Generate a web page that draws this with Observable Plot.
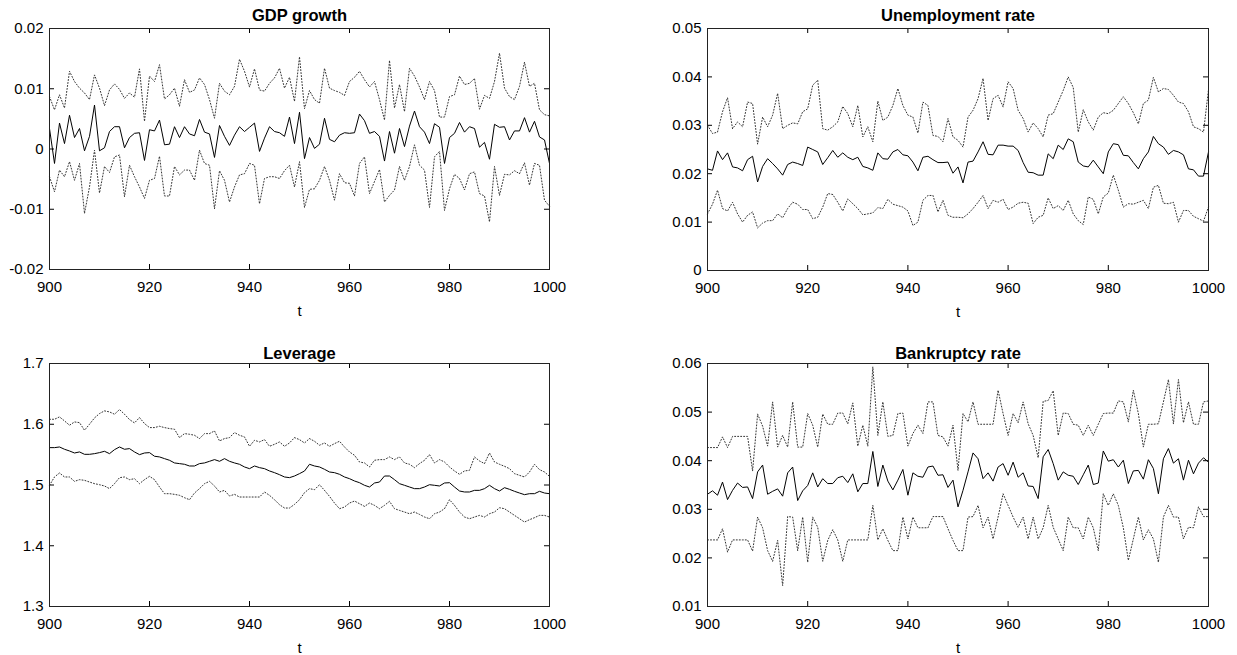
<!DOCTYPE html>
<html>
<head>
<meta charset="utf-8">
<script src="https://cdn.jsdelivr.net/npm/d3@7"></script>
<script src="https://cdn.jsdelivr.net/npm/@observablehq/plot@0.6"></script>
<style>
  html, body { margin: 0; padding: 0; background: #fff; }
  #wrap { position: relative; width: 1237px; height: 655px; overflow: hidden; background: #fff; }
  .panel { position: absolute; }
</style>
</head>
<body>
<div id="wrap"></div>
<script>
// ---- data ----
const t = d3.range(900, 1001);
const xTicks = [900, 920, 940, 960, 980, 1000];

const gdpTicks = [-0.02, -0.01, 0, 0.01, 0.02];
const unempTicks = [0, 0.01, 0.02, 0.03, 0.04, 0.05];
const levTicks = [1.3, 1.4, 1.5, 1.6, 1.7];
const bankTicks = [0.01, 0.02, 0.03, 0.04, 0.05, 0.06];

const gdpMean = [
  0.0034, -0.0024, 0.0043, 0.0009, 0.0056, 0.0019, 0.0034, -0.0003, 0.0021, 0.0073,
  -0.0003, 0.0002, 0.0029, 0.0037, 0.0037, 0.0002, 0.0019, 0.0026, 0.0027, -0.0019,
  0.0032, 0.003, 0.0048, 0.0007, 0.0008, 0.0037, 0.0019, 0.0037, 0.0025, 0.0022,
  0.0049, 0.0028, 0.0025, -0.0014, 0.0039, 0.0021, 0.0006, 0.0023, 0.0037, 0.0029,
  0.0036, 0.0043, -0.0004, 0.0018, 0.0037, 0.0029, 0.0027, 0.0021, 0.0053, 0.0009,
  0.0061, -0.0016, 0.0019, 0.0001, 0.0008, 0.0051, 0.0016, 0.0012, 0.0023, 0.0027,
  0.0026, 0.0027, 0.0058, 0.0047, 0.0026, 0.0029, 0.0021, -0.002, 0.0029, -0.0007,
  0.0034, 0.0004, 0.0038, 0.0063, 0.0037, 0.0028, 0.0009, 0.0042, 0.0036, -0.0024,
  0.0019, 0.0026, 0.0044, 0.0028, 0.0037, 0.0034, 0.0003, 0.0011, -0.0017, 0.0041,
  0.0036, 0.0037, 0.0015, 0.003, 0.003, 0.0052, 0.0028, 0.0046, 0.002, 0.0015,
  -0.0024
];
const gdpUpper = [
  0.0087, 0.0065, 0.009, 0.0068, 0.0129, 0.0112, 0.0101, 0.0093, 0.0082, 0.0123,
  0.0101, 0.0072, 0.0098, 0.0108, 0.0099, 0.0084, 0.0093, 0.0086, 0.0133, 0.0046,
  0.0121, 0.0112, 0.014, 0.0083, 0.009, 0.0101, 0.0071, 0.0115, 0.0094, 0.0098,
  0.0118, 0.0107, 0.0082, 0.0051, 0.0109, 0.0096, 0.009, 0.0104, 0.0149, 0.0129,
  0.0103, 0.0133, 0.0098, 0.0096, 0.0109, 0.0118, 0.0134, 0.0101, 0.0119, 0.0079,
  0.0153, 0.0067, 0.0097, 0.0082, 0.0076, 0.0134, 0.0101, 0.0097, 0.0094, 0.0089,
  0.0112, 0.0119, 0.0129, 0.0115, 0.0103, 0.0112, 0.0082, 0.0048, 0.0147, 0.0068,
  0.0107, 0.0062, 0.0134, 0.0121, 0.0103, 0.0082, 0.0112, 0.0097, 0.0053, 0.0053,
  0.0087, 0.009, 0.0121, 0.0107, 0.0109, 0.0117, 0.0066, 0.0089, 0.0084, 0.0112,
  0.0159, 0.0101, 0.0087, 0.0082, 0.0104, 0.0144, 0.0104, 0.0109, 0.0065, 0.0057,
  0.0055
];
const gdpLower = [
  -0.0046, -0.0071, -0.0035, -0.0046, -0.0021, -0.0052, -0.0024, -0.0107, -0.0063, -0.0002,
  -0.0073, -0.0029, -0.0039, -0.0013, -0.001, -0.0079, -0.0027, -0.0046, -0.0063, -0.0082,
  -0.0052, -0.0049, -0.0012, -0.0078, -0.0078, -0.0029, -0.0043, -0.0035, -0.0035, -0.0052,
  -0.0002, -0.0024, -0.0027, -0.0099, -0.0036, -0.0052, -0.0088, -0.0063, -0.0043, -0.0041,
  -0.0024, -0.0027, -0.0091, -0.0049, -0.0046, -0.0046, -0.0049, -0.0036, -0.0027, -0.0063,
  -0.0021, -0.0097, -0.0067, -0.0066, -0.0052, -0.0029, -0.0052, -0.0085, -0.0041, -0.0056,
  -0.0057, -0.0078, -0.0024, -0.0013, -0.0074, -0.0054, -0.0034, -0.0088, -0.0077, -0.0068,
  -0.0029, -0.0052, -0.0029, 0.0007, -0.0027, -0.0035, -0.0097, -0.0013, -0.0004, -0.0102,
  -0.0066, -0.0042, -0.0049, -0.0068, -0.0041, -0.0038, -0.0074, -0.0078, -0.0121, -0.0029,
  -0.0077, -0.0042, -0.0043, -0.0036, -0.0041, -0.0023, -0.006, -0.0024, -0.0027, -0.0085,
  -0.0095
];

const unempMean = [
  0.021, 0.0207, 0.0247, 0.0229, 0.0243, 0.0214, 0.0212, 0.0206, 0.0229, 0.0236,
  0.0183, 0.0215, 0.0231, 0.0221, 0.021, 0.0197, 0.0219, 0.0224, 0.0221, 0.0217,
  0.0255, 0.025, 0.0245, 0.0219, 0.0233, 0.0248, 0.0234, 0.0243, 0.0234, 0.0229,
  0.0234, 0.0215, 0.0212, 0.0207, 0.0243, 0.0231, 0.023, 0.0245, 0.025, 0.0239,
  0.0237, 0.0224, 0.0206, 0.0234, 0.0236, 0.0229, 0.0223, 0.0223, 0.0224, 0.0201,
  0.0214, 0.0181, 0.0224, 0.0226, 0.0245, 0.0266, 0.024, 0.0239, 0.0259, 0.0259,
  0.0257, 0.0257, 0.0248, 0.0223, 0.0203, 0.0202, 0.0197, 0.0197, 0.0241, 0.0231,
  0.0259, 0.025, 0.0272, 0.0266, 0.0224, 0.0216, 0.0214, 0.0228, 0.0214, 0.02,
  0.0245, 0.0262, 0.026, 0.0238, 0.0237, 0.0223, 0.021, 0.0231, 0.0245, 0.0277,
  0.0262, 0.0255, 0.024, 0.0248, 0.0245, 0.0239, 0.021, 0.0208, 0.0195, 0.0195,
  0.0245
];
const unempUpper = [
  0.03, 0.0283, 0.0286, 0.0328, 0.0357, 0.0293, 0.0307, 0.0297, 0.0348, 0.0345,
  0.0261, 0.0317, 0.0297, 0.0321, 0.0366, 0.0293, 0.03, 0.0305, 0.0303, 0.0328,
  0.0334, 0.0383, 0.0393, 0.0293, 0.029, 0.0297, 0.0307, 0.0339, 0.0324, 0.0297,
  0.0341, 0.0276, 0.0297, 0.0266, 0.035, 0.031, 0.0317, 0.0341, 0.0376, 0.0341,
  0.0321, 0.0317, 0.0284, 0.0348, 0.0341, 0.0279, 0.0277, 0.0266, 0.0314, 0.0276,
  0.0269, 0.0255, 0.0317, 0.0331, 0.0355, 0.0397, 0.031, 0.0355, 0.0362, 0.0338,
  0.039, 0.0376, 0.0331, 0.0314, 0.0286, 0.0305, 0.0293, 0.0276, 0.0321, 0.0324,
  0.0348, 0.0372, 0.04, 0.0378, 0.0286, 0.0332, 0.0307, 0.029, 0.0317, 0.0326,
  0.0324, 0.0331, 0.0345, 0.0359, 0.0345, 0.0326, 0.0303, 0.0345, 0.0352, 0.0399,
  0.0369, 0.0376, 0.0374, 0.0362, 0.0348, 0.0345, 0.0328, 0.0297, 0.0293, 0.0286,
  0.0374
];
const unempLower = [
  0.0117, 0.0137, 0.0166, 0.0128, 0.0123, 0.0141, 0.0117, 0.01, 0.0114, 0.0121,
  0.0088, 0.0098, 0.0103, 0.0103, 0.0117, 0.0109, 0.0128, 0.0141, 0.0137, 0.0126,
  0.0126, 0.0107, 0.011, 0.0131, 0.0159, 0.0157, 0.0141, 0.0123, 0.0148, 0.0138,
  0.0128, 0.0115, 0.0117, 0.0119, 0.013, 0.0128, 0.0147, 0.0137, 0.0134, 0.0131,
  0.0123, 0.0093, 0.01, 0.0145, 0.0155, 0.0155, 0.0121, 0.0145, 0.0114, 0.011,
  0.011, 0.0109, 0.0117, 0.0128, 0.0141, 0.0155, 0.0128, 0.0145, 0.0141, 0.0147,
  0.0126, 0.0131, 0.0139, 0.0141, 0.0139, 0.0097, 0.011, 0.0114, 0.015, 0.0128,
  0.0134, 0.0124, 0.0145, 0.0117, 0.0103, 0.0095, 0.0152, 0.0147, 0.0117, 0.0152,
  0.016, 0.0197, 0.0166, 0.0131, 0.0138, 0.0137, 0.0141, 0.0145, 0.0128, 0.0172,
  0.0176, 0.0139, 0.0138, 0.0141, 0.01, 0.0124, 0.0124, 0.0112, 0.0107, 0.0102,
  0.0131
];

const levMean = [
  1.5615, 1.5615, 1.5626, 1.5588, 1.556, 1.5527, 1.5544, 1.5505, 1.5505, 1.5516,
  1.5533, 1.5555, 1.5516, 1.5582, 1.5626, 1.5588, 1.5599, 1.5544, 1.55, 1.5527,
  1.5533, 1.5473, 1.5462, 1.5434, 1.5407, 1.5363, 1.5352, 1.5341, 1.5313, 1.5313,
  1.5352, 1.5363, 1.539, 1.5418, 1.539, 1.5434, 1.539, 1.5363, 1.5341, 1.5297,
  1.5269, 1.5313, 1.5286, 1.5269, 1.5231, 1.5203, 1.517, 1.5132, 1.5121, 1.5148,
  1.5187, 1.523, 1.5341, 1.5313, 1.5297, 1.5258, 1.5214, 1.5203, 1.5176, 1.5132,
  1.5104, 1.5066, 1.5038, 1.4995, 1.4967, 1.5033, 1.5049, 1.5148, 1.5148, 1.5088,
  1.5022, 1.4995, 1.4967, 1.494, 1.494, 1.4967, 1.5005, 1.4995, 1.4984, 1.5033,
  1.5038, 1.4967, 1.4901, 1.4885, 1.4885, 1.4912, 1.4912, 1.494, 1.4995, 1.494,
  1.4901, 1.4956, 1.4929, 1.4896, 1.4868, 1.4841, 1.4857, 1.4857, 1.4896, 1.4868,
  1.4857
];
const levUpper = [
  1.6082, 1.6082, 1.6121, 1.6055, 1.5984, 1.6038, 1.6027, 1.5901, 1.6, 1.6104,
  1.6176, 1.622, 1.6203, 1.6165, 1.6242, 1.6165, 1.6077, 1.6022, 1.611, 1.6011,
  1.5945, 1.5945, 1.5967, 1.5945, 1.5929, 1.5918, 1.578, 1.5846, 1.5835, 1.5819,
  1.5764, 1.5846, 1.5846, 1.589, 1.5725, 1.5764, 1.578, 1.5863, 1.5819, 1.5791,
  1.5637, 1.5736, 1.5709, 1.5747, 1.5637, 1.567, 1.5709, 1.5637, 1.5692, 1.578,
  1.5747, 1.5692, 1.5764, 1.572, 1.5654, 1.5692, 1.5637, 1.5681, 1.572, 1.5626,
  1.5544, 1.5489, 1.5379, 1.5363, 1.5297, 1.5407, 1.5418, 1.5418, 1.5462, 1.5418,
  1.5462, 1.5363, 1.5341, 1.5286, 1.5352, 1.5407, 1.55, 1.5363, 1.5418, 1.5379,
  1.5297, 1.5231, 1.5176, 1.5231, 1.5242, 1.5462, 1.5396, 1.5352, 1.5527, 1.5379,
  1.5341, 1.5308, 1.5269, 1.5187, 1.5159, 1.5132, 1.5214, 1.5341, 1.5253, 1.5214,
  1.5143
];
const levLower = [
  1.4995, 1.5132, 1.5198, 1.5132, 1.5132, 1.506, 1.5088, 1.5077, 1.5049, 1.5022,
  1.5005, 1.4984, 1.494, 1.5022, 1.5121, 1.5132, 1.5088, 1.5104, 1.5022, 1.5088,
  1.5143, 1.5088, 1.4967, 1.4857, 1.4857, 1.4846, 1.483, 1.4791, 1.4758, 1.4868,
  1.494, 1.5022, 1.506, 1.4984, 1.4885, 1.4912, 1.4819, 1.4846, 1.4802, 1.4802,
  1.4802, 1.4802, 1.4802, 1.4885, 1.483, 1.4758, 1.4676, 1.4621, 1.4621, 1.4681,
  1.4758, 1.4874, 1.494, 1.4923, 1.5005, 1.4912, 1.4813, 1.4703, 1.461, 1.4637,
  1.4703, 1.4736, 1.4692, 1.4648, 1.4703, 1.4665, 1.461, 1.4665, 1.4731, 1.461,
  1.4582, 1.4555, 1.4527, 1.4555, 1.4516, 1.4473, 1.4445, 1.4527, 1.4555, 1.461,
  1.4758, 1.4665, 1.4555, 1.4473, 1.4445, 1.4473, 1.45, 1.4473, 1.4527, 1.4555,
  1.4626, 1.461, 1.4555, 1.45, 1.4445, 1.439, 1.4429, 1.4462, 1.45, 1.45,
  1.4473
];

const bankMean = [
  0.0331, 0.0338, 0.0329, 0.0356, 0.032, 0.0339, 0.0354, 0.0345, 0.0346, 0.0322,
  0.0377, 0.0391, 0.0331, 0.0337, 0.0342, 0.0327, 0.0375, 0.0387, 0.0318, 0.0338,
  0.0349, 0.0375, 0.0346, 0.0363, 0.0353, 0.0353, 0.0365, 0.0368, 0.0355, 0.0373,
  0.0336, 0.0353, 0.0353, 0.0419, 0.0347, 0.0391, 0.0358, 0.034, 0.036, 0.0382,
  0.0329, 0.0375, 0.0368, 0.0366, 0.0387, 0.0389, 0.037, 0.0371, 0.0345, 0.036,
  0.0305, 0.0339, 0.0377, 0.0416, 0.0404, 0.0363, 0.0375, 0.0358, 0.0387, 0.0394,
  0.037, 0.0397, 0.0366, 0.0375, 0.0348, 0.0347, 0.0322, 0.0408, 0.0423, 0.0394,
  0.036, 0.0377, 0.037, 0.0368, 0.0351, 0.0371, 0.0391, 0.0351, 0.0354, 0.042,
  0.0399, 0.0402, 0.0387, 0.0401, 0.0353, 0.0379, 0.038, 0.0362, 0.0402, 0.0384,
  0.0332, 0.0404, 0.0425, 0.0395, 0.0404, 0.036, 0.0401, 0.0373, 0.0395, 0.0406,
  0.0397
];
const bankUpper = [
  0.0427, 0.0427, 0.0427, 0.0449, 0.0427, 0.045, 0.045, 0.045, 0.045, 0.0379,
  0.0496, 0.0471, 0.043, 0.0521, 0.0428, 0.0452, 0.0428, 0.0521, 0.0428, 0.0428,
  0.0497, 0.0473, 0.0428, 0.0496, 0.0475, 0.0475, 0.0498, 0.0498, 0.0476, 0.0519,
  0.043, 0.0473, 0.043, 0.0593, 0.0452, 0.0521, 0.045, 0.0452, 0.0497, 0.0498,
  0.043, 0.0456, 0.0473, 0.0456, 0.0521, 0.0521, 0.0452, 0.0449, 0.043, 0.0473,
  0.038, 0.0497, 0.048, 0.0521, 0.0475, 0.0475, 0.0475, 0.0475, 0.0545, 0.0497,
  0.0452, 0.0497, 0.0478, 0.0521, 0.0476, 0.0452, 0.0406, 0.0522, 0.0524, 0.0544,
  0.0452, 0.0498, 0.0497, 0.0475, 0.0473, 0.0452, 0.0473, 0.0452, 0.0475, 0.0497,
  0.0498, 0.0498, 0.0523, 0.0521, 0.048, 0.0545, 0.0497, 0.0428, 0.0475, 0.0475,
  0.0476, 0.0521, 0.0567, 0.0476, 0.0567, 0.0478, 0.0521, 0.0475, 0.0475, 0.0521,
  0.0523
];
const bankLower = [
  0.0237, 0.0237, 0.0237, 0.026, 0.0212, 0.0237, 0.0237, 0.0237, 0.0237, 0.0214,
  0.0284, 0.0262, 0.0215, 0.0193, 0.0236, 0.0143, 0.0285, 0.0284, 0.0215, 0.0284,
  0.0191, 0.0284, 0.0263, 0.0193, 0.0236, 0.0258, 0.0237, 0.0193, 0.0237, 0.0237,
  0.0237, 0.0237, 0.0237, 0.0308, 0.0237, 0.026, 0.0236, 0.0215, 0.0215, 0.0284,
  0.0239, 0.0284, 0.0262, 0.0262, 0.0262, 0.0285, 0.0285, 0.0285, 0.026, 0.0236,
  0.0215, 0.0215, 0.0284, 0.0285, 0.0308, 0.0262, 0.0284, 0.0239, 0.0284, 0.0332,
  0.0308, 0.0284, 0.0263, 0.0284, 0.0239, 0.0284, 0.0239, 0.0262, 0.0308, 0.0263,
  0.0239, 0.0215, 0.0284, 0.0262, 0.0262, 0.0239, 0.0284, 0.0262, 0.0215, 0.0332,
  0.0308, 0.0332, 0.0308, 0.0262, 0.0195, 0.0239, 0.0284, 0.0237, 0.0258, 0.0239,
  0.0191, 0.0284, 0.0308, 0.0284, 0.0284, 0.0239, 0.0263, 0.0262, 0.0305, 0.0285,
  0.0285
];

// ---- layout ----
const panels = [
  {title: "GDP growth", mean: gdpMean, upper: gdpUpper, lower: gdpLower, ticks: gdpTicks,
   left: 0, top: 0, width: 618, height: 327, mL: 49, mR: 69, mT: 28, mB: 58, titleDy: -8},
  {title: "Unemployment rate", mean: unempMean, upper: unempUpper, lower: unempLower, ticks: unempTicks,
   left: 618, top: 0, width: 619, height: 327, mL: 89, mR: 29, mT: 28, mB: 57, titleDy: -8},
  {title: "Leverage", mean: levMean, upper: levUpper, lower: levLower, ticks: levTicks,
   left: 0, top: 327, width: 618, height: 328, mL: 49, mR: 69, mT: 36, mB: 49, titleDy: -5},
  {title: "Bankruptcy rate", mean: bankMean, upper: bankUpper, lower: bankLower, ticks: bankTicks,
   left: 618, top: 327, width: 619, height: 328, mL: 89, mR: 29, mT: 36, mB: 49, titleDy: -5}
];

const fmt = d => String(d);
const FONT = "'Liberation Sans', Arial, Helvetica, sans-serif";
const wrap = document.getElementById("wrap");

for (const p of panels) {
  for (const arr of [p.mean, p.upper, p.lower]) {
    if (arr.length !== t.length) throw new Error(p.title + " length " + arr.length);
  }
  const rows = t.map((ti, i) => ({t: ti, mean: p.mean[i], upper: p.upper[i], lower: p.lower[i]}));
  const plotW = p.width - p.mL - p.mR;
  const plotH = p.height - p.mT - p.mB;
  const tick = 5;
  const chart = Plot.plot({
    width: p.width,
    height: p.height,
    marginLeft: p.mL, marginRight: p.mR, marginTop: p.mT, marginBottom: p.mB,
    style: {fontFamily: FONT, background: "white", color: "black", overflow: "visible"},
    x: {domain: [900, 1000], axis: null},
    y: {domain: [p.ticks[0], p.ticks[p.ticks.length - 1]], axis: null},
    marks: [
      Plot.line(rows, {x: "t", y: "upper", stroke: "#333", strokeWidth: 1, strokeDasharray: "1,2"}),
      Plot.line(rows, {x: "t", y: "lower", stroke: "#333", strokeWidth: 1, strokeDasharray: "1,2"}),
      Plot.line(rows, {x: "t", y: "mean", stroke: "black", strokeWidth: 1}),
      // inward ticks on all four sides
      Plot.tickX(xTicks, {x: d => d, insetTop: plotH - tick, stroke: "black"}),
      Plot.tickX(xTicks, {x: d => d, insetBottom: plotH - tick, stroke: "black"}),
      Plot.tickY(p.ticks, {y: d => d, insetRight: plotW - tick, stroke: "black"}),
      Plot.tickY(p.ticks, {y: d => d, insetLeft: plotW - tick, stroke: "black"}),
      Plot.frame({stroke: "#222", strokeWidth: 1}),
      // tick labels
      Plot.text(xTicks, {x: d => d, frameAnchor: "bottom", lineAnchor: "top", dy: 12, text: fmt, fontSize: 15, fill: "black"}),
      Plot.text(p.ticks, {y: d => d, frameAnchor: "left", textAnchor: "end", dx: -6, text: fmt, fontSize: 15, fill: "black"}),
      // x label
      Plot.text(["t"], {frameAnchor: "bottom", lineAnchor: "middle", dy: 42, text: d => d, fontSize: 15, fill: "black"}),
      // title
      Plot.text([p.title], {frameAnchor: "top", lineAnchor: "bottom", dy: p.titleDy, text: d => d, fontSize: 16.5, fontWeight: "bold", fill: "black"})
    ]
  });
  chart.classList.add("panel");
  chart.style.left = p.left + "px";
  chart.style.top = p.top + "px";
  chart.style.position = "absolute";
  wrap.appendChild(chart);
}
</script>
</body>
</html>
